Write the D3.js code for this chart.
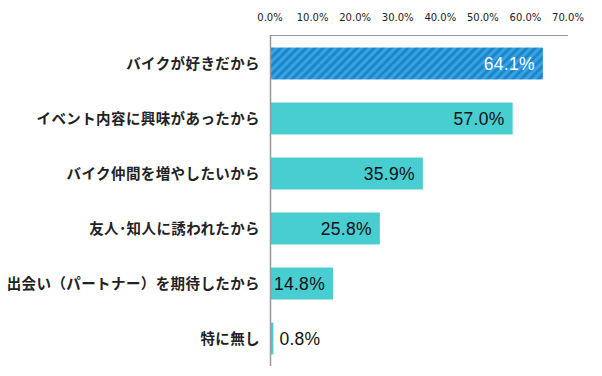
<!DOCTYPE html>
<html>
<head>
<meta charset="utf-8">
<script src="https://cdn.jsdelivr.net/npm/d3@7"></script>
<style>
  body { margin: 0; background: #fff; }
  svg { display: block; }
</style>
</head>
<body>
<svg id="chart" width="602" height="376"></svg>
<script>
var categories = ["バイクが好きだから", "イベント内容に興味があったから", "バイク仲間を増やしたいから",
                  "友人･知人に誘われたから", "出会い（パートナー）を期待したから", "特に無し"];
var values = [64.1, 57.0, 35.9, 25.8, 14.8, 0.8];
var tickValues = [0, 10, 20, 30, 40, 50, 60, 70];

var svg = d3.select("#chart");
var x = d3.scaleLinear().domain([0, 70]).range([270, 568]);
var y = d3.scaleBand().domain(categories).range([36, 366]).paddingInner(0.42).paddingOuter(0.21);

// stripe pattern for the first bar
var defs = svg.append("defs");
var pat = defs.append("pattern")
    .attr("id", "stripe")
    .attr("patternUnits", "userSpaceOnUse")
    .attr("width", 6).attr("height", 6)
    .attr("patternTransform", "rotate(45)");
pat.append("rect").attr("width", 6).attr("height", 6).attr("fill", "#1a86cc");
pat.append("rect").attr("width", 3).attr("height", 6).attr("fill", "#3aa2e0");

// tick labels on top
svg.append("g").selectAll("text").data(tickValues).enter()
    .append("text")
    .attr("x", function(d) { return x(d); })
    .attr("y", 21)
    .attr("text-anchor", "middle")
    .style("font-family", "'DejaVu Sans', Verdana, sans-serif")
    .style("font-size", "10px")
    .attr("fill", "#222")
    .text(function(d) { return d.toFixed(1) + "%"; });

// bars
svg.append("g").selectAll("rect").data(values).enter()
    .append("rect")
    .attr("x", x(0))
    .attr("y", function(d, i) { return y(categories[i]); })
    .attr("width", function(d) { return x(d) - x(0); })
    .attr("height", y.bandwidth())
    .attr("fill", function(d, i) { return i == 0 ? "url(#stripe)" : "#48cdd0"; });

// frame lines
svg.append("line").attr("x1", x(0)).attr("x2", x(70)).attr("y1", 35.5).attr("y2", 35.5)
    .attr("stroke", "#999").attr("stroke-width", 1);
svg.append("line").attr("x1", x(0) + 0.5).attr("x2", x(0) + 0.5).attr("y1", 35).attr("y2", 366)
    .attr("stroke", "#999").attr("stroke-width", 1.5);

// category labels
svg.append("g").selectAll("text").data(categories).enter()
    .append("text")
    .attr("x", 260)
    .attr("y", function(d) { return y(d) + y.bandwidth() / 2; })
    .attr("dy", "0.36em")
    .attr("text-anchor", "end")
    .style("font-family", "'Noto Sans CJK JP', sans-serif")
    .style("font-size", "14.5px")
    .style("font-weight", "600")
    .style("letter-spacing", "0.4px")
    .attr("fill", "#222")
    .text(function(d) { return d; });

// value labels
svg.append("g").selectAll("text").data(values).enter()
    .append("text")
    .attr("x", function(d) { return d < 5 ? x(d) + 6 : x(d) - 8; })
    .attr("y", function(d, i) { return y(categories[i]) + y.bandwidth() / 2; })
    .attr("dy", "0.38em")
    .attr("text-anchor", function(d) { return d < 5 ? "start" : "end"; })
    .style("font-family", "'Liberation Sans', Arial, sans-serif")
    .style("font-size", "17.5px")
    .style("letter-spacing", "0.3px")
    .attr("fill", function(d, i) { return i == 0 ? "#fff" : "#111"; })
    .text(function(d) { return d.toFixed(1) + "%"; });
</script>
</body>
</html>
